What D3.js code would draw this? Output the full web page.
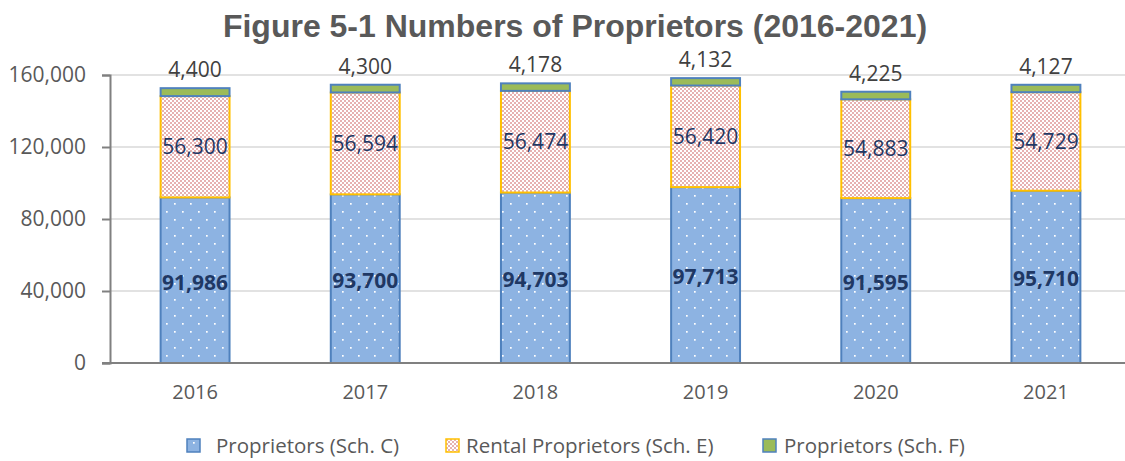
<!DOCTYPE html>
<html>
<head>
<meta charset="utf-8">
<title>Numbers of Proprietors</title>
<script src="https://cdn.jsdelivr.net/npm/d3@7"></script>
<style>
  body { margin: 0; background: #fff; }
</style>
</head>
<body>
<div id="chart"></div>
<script>
// data
const years = ["2016", "2017", "2018", "2019", "2020", "2021"];
const schC = [91986, 93700, 94703, 97713, 91595, 95710];
const schE = [56300, 56594, 56474, 56420, 54883, 54729];
const schF = [4400, 4300, 4178, 4132, 4225, 4127];
const yTicks = [0, 40000, 80000, 120000, 160000];
const seriesNames = ["Proprietors (Sch. C)", "Rental Proprietors (Sch. E)", "Proprietors (Sch. F)"];

const W = 1125, H = 461;
const svg = d3.select("#chart").append("svg")
    .attr("width", W).attr("height", H);

// patterns
const defs = svg.append("defs");
let pc = defs.append("pattern").attr("id", "dots")
    .attr("patternUnits", "userSpaceOnUse").attr("width", 16).attr("height", 16);
pc.append("rect").attr("width", 16).attr("height", 16).attr("fill", "#8DB3E2");
pc.append("rect").attr("x", 6).attr("y", 3).attr("width", 1.7).attr("height", 1.7).attr("fill", "#fff");
pc.append("rect").attr("x", 14).attr("y", 11).attr("width", 1.7).attr("height", 1.7).attr("fill", "#fff");

let pe = defs.append("pattern").attr("id", "check")
    .attr("patternUnits", "userSpaceOnUse").attr("width", 4).attr("height", 4);
pe.append("rect").attr("width", 4).attr("height", 4).attr("fill", "#fff");
pe.append("rect").attr("width", 2).attr("height", 2).attr("fill", "#E6B1B1");
pe.append("rect").attr("x", 2).attr("y", 2).attr("width", 2).attr("height", 2).attr("fill", "#E6B1B1");

const mLeft = 110, mTop = 75, mBottom = 363;
const x = d3.scaleBand().domain(years).range([mLeft, 1131])
    .paddingInner(0.595).paddingOuter(0.2975);
const y = d3.scaleLinear().domain([0, 160000]).range([mBottom, mTop]);

// gridlines
svg.append("g").selectAll("line").data(yTicks.slice(1)).join("line")
    .attr("x1", mLeft).attr("x2", W)
    .attr("y1", d => y(d)).attr("y2", d => y(d))
    .attr("stroke", "#D9D9D9").attr("stroke-width", 1.3);

// stacked data
const rows = years.map((yr, i) => ({ year: yr, c: schC[i], e: schE[i], f: schF[i] }));
const stack = d3.stack().keys(["c", "e", "f"])(rows);
const fills = ["url(#dots)", "url(#check)", "#9BBB59"];
const strokes = ["#4F81BD", "#FFC000", "#4F81BD"];

stack.forEach((layer, k) => {
  svg.append("g").selectAll("rect").data(layer).join("rect")
    .attr("x", d => x(d.data.year))
    .attr("width", x.bandwidth())
    .attr("y", d => y(d[1]))
    .attr("height", d => y(d[0]) - y(d[1]))
    .attr("fill", fills[k])
    .attr("stroke", strokes[k])
    .attr("stroke-width", 2);
});

// axes
const yAxis = d3.axisLeft(y).tickValues(yTicks).tickSize(8).tickPadding(16)
    .tickFormat(d3.format(","));
const gy = svg.append("g").attr("transform", `translate(${mLeft},0)`).call(yAxis);
gy.select(".domain").attr("stroke", "#808080").attr("stroke-width", 2);
gy.selectAll(".tick line").attr("stroke", "#808080").attr("stroke-width", 2);
gy.selectAll("text").attr("fill", "#595959").style("font-family", "Open Sans, sans-serif").style("font-size", "21px");

svg.append("line").attr("x1", mLeft - 8).attr("x2", W)
    .attr("y1", mBottom).attr("y2", mBottom)
    .attr("stroke", "#808080").attr("stroke-width", 2);

const xAxis = d3.axisBottom(x).tickSize(0).tickPadding(22);
const gx = svg.append("g").attr("transform", `translate(0,${mBottom})`).call(xAxis);
gx.select(".domain").remove();
gx.selectAll("text").attr("fill", "#595959").style("font-family", "Open Sans, sans-serif").style("font-size", "20px");

// value labels
const fmt = d3.format(",");
const cx = d => x(d.data.year) + x.bandwidth() / 2;
const lab = svg.append("g").style("font-family", "Open Sans, sans-serif").attr("text-anchor", "middle");
lab.selectAll(".lc").data(stack[0]).join("text")
    .attr("x", cx)
    .attr("y", d => (y(d[0]) + y(d[1])) / 2 + 2)
    .attr("dy", "0.35em")
    .attr("fill", "#1F3864").attr("font-weight", "bold").style("font-size", "21px")
    .text(d => fmt(d.data.c));
lab.selectAll(".le").data(stack[1]).join("text")
    .attr("x", cx)
    .attr("y", d => (y(d[0]) + y(d[1])) / 2)
    .attr("dy", "0.35em")
    .attr("fill", "#1F3864").style("font-size", "21px")
    .text(d => fmt(d.data.e));
lab.selectAll(".lf").data(stack[2]).join("text")
    .attr("x", cx)
    .attr("y", d => y(d[1]) - 11)
    .attr("fill", "#404040").style("font-size", "21px")
    .text(d => fmt(d.data.f));

// title
svg.append("text").attr("x", 575).attr("y", 37).attr("text-anchor", "middle")
    .style("font-family", "Liberation Sans, Arial, sans-serif")
    .style("font-size", "32px").attr("font-weight", "bold").attr("fill", "#595959")
    .text("Figure 5-1 Numbers of Proprietors (2016-2021)");

// legend
const legX = [187, 446, 763];
const legTextX = [29, 20, 21];
const legFills = ["url(#dots)", "url(#check)", "#9BBB59"];
const leg = svg.append("g").selectAll("g").data(seriesNames).join("g")
    .attr("transform", (d, i) => `translate(${legX[i]},439)`);
leg.append("rect").attr("width", 13).attr("height", 13)
    .attr("fill", (d, i) => legFills[i]).attr("stroke", (d, i) => strokes[i]).attr("stroke-width", 1.5);
leg.append("text").attr("x", (d, i) => legTextX[i]).attr("y", 6.5).attr("dy", "0.35em")
    .style("font-family", "Open Sans, sans-serif").style("font-size", "20.5px").attr("fill", "#595959")
    .text(d => d);
</script>
</body>
</html>
